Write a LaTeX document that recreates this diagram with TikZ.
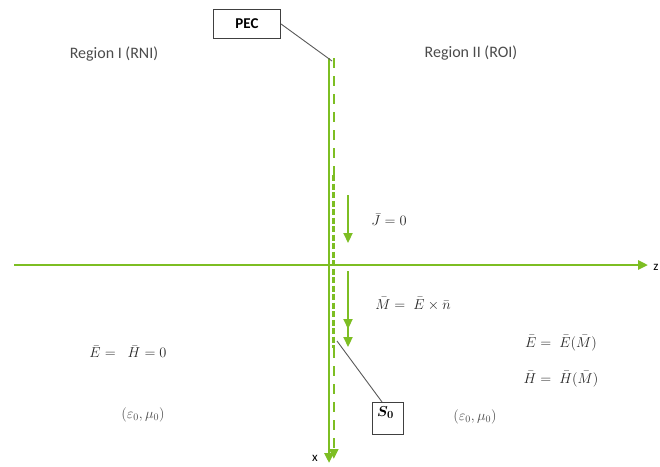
\documentclass[tikz,border=0pt]{standalone}
\usepackage{fontspec}
\setmainfont{Carlito}
\usepackage{bm}
\usetikzlibrary{arrows.meta}
\definecolor{pecgreen}{RGB}{125,190,35}
\definecolor{txtgray}{RGB}{75,75,75}
\tikzset{
  axis/.style={pecgreen, line width=2.6pt},
  surf/.style={pecgreen, line width=2.6pt, dash pattern=on 10pt off 8pt},
  densesurf/.style={pecgreen, line width=3.2pt, dash pattern=on 6pt off 2.5pt},
  current/.style={pecgreen, line width=2.2pt},
  tagbox/.style={draw=black!75, line width=1.1pt, fill=white, inner sep=0pt},
  leader/.style={draw=black!65, line width=0.9pt},
  regiontext/.style={text=txtgray, font=\fontsize{16}{18}\selectfont},
  eqtext/.style={text=black!85, font=\fontsize{15}{18}\selectfont},
  mediumtext/.style={text=txtgray, font=\fontsize{14.5}{17}\selectfont},
}
\begin{document}
\begin{tikzpicture}[x=1pt, y=-1pt, >={Triangle[length=10pt,width=9pt]}]
  \useasboundingbox (0,0) rectangle (660,466);

  % z axis and x axis
  \coordinate (Zs) at (14,265);
  \coordinate (Ze) at (648,265);
  \coordinate (Xs) at (329,58);
  \coordinate (Xe) at (329,463);
  \draw[axis, ->] (Zs) -- (Ze);
  \draw[axis, ->] (Xs) -- (Xe);
  \node[font=\fontsize{13}{15}\selectfont] (zlab) at (656,267) {$\mathrm{z}$};
  \node[font=\fontsize{13}{15}\selectfont] (xlab) at (315,458) {$\mathrm{x}$};

  % PEC surface (dashed)
  \coordinate (Ptop) at (333.8,58);
  \coordinate (Pmid1) at (333.8,175);
  \coordinate (Pmid2) at (333.8,348);
  \coordinate (Pbot) at (333.8,459);
  \draw[surf] (Ptop) -- (Pmid1);
  \draw[densesurf] (Pmid1) -- (Pmid2);
  \draw[surf, ->] (Pmid2) -- (Pbot);

  % surface currents
  \coordinate (Jtop) at (348,195);
  \coordinate (Jbot) at (348,243);
  \draw[current, ->] (Jtop) -- (Jbot);
  \coordinate (Mtop) at (348,271);
  \coordinate (Mmid) at (348,329);
  \coordinate (Mbot) at (348,347);
  \draw[current, ->] (Mtop) -- (Mmid);
  \draw[current, ->] (Mtop) -- (Mbot);

  % region labels
  \node[regiontext] (rni) at (114,54) {Region I (RNI)};
  \node[regiontext] (roi) at (471,53) {Region II (ROI)};

  % field relations
  \node[eqtext] (jeq) at (389,220) {$\bar{J} = 0$};
  \node[eqtext] (meq) at (413,304) {$\bar{M} =\;\bar{E} \times \bar{n}$};
  \node[eqtext] (ehzero) at (128,352) {$\bar{E} =\;\;\bar{H} = 0$};
  \node[eqtext] (eofm) at (561,343) {$\bar{E} =\;\bar{E}(\bar{M})$};
  \node[eqtext] (hofm) at (561,379) {$\bar{H} =\;\bar{H}(\bar{M})$};
  \node[mediumtext] (medl) at (143,415) {$(\varepsilon_0, \mu_0)$};
  \node[mediumtext] (medr) at (475,417) {$(\varepsilon_0, \mu_0)$};

  % PEC tag
  \node[tagbox, minimum width=67, minimum height=29,
        font=\bfseries\fontsize{15}{18}\selectfont] (pec) at (247,24) {PEC};
  \coordinate (pectip) at (332,61);
  \draw[leader] (pec.east) -- (pectip);

  % S0 tag
  \node[tagbox, anchor=north west, minimum width=31, minimum height=32] (sbox) at (372,402) {};
  \node[anchor=north west, inner sep=1pt, font=\fontsize{15}{18}\selectfont]
    (slab) at ([xshift=4pt,yshift=-3pt]sbox.north west) {$\bm{S_0}$};
  \coordinate (stip) at (337,341);
  \draw[leader] (sbox.110) -- (stip);
\end{tikzpicture}
\end{document}
